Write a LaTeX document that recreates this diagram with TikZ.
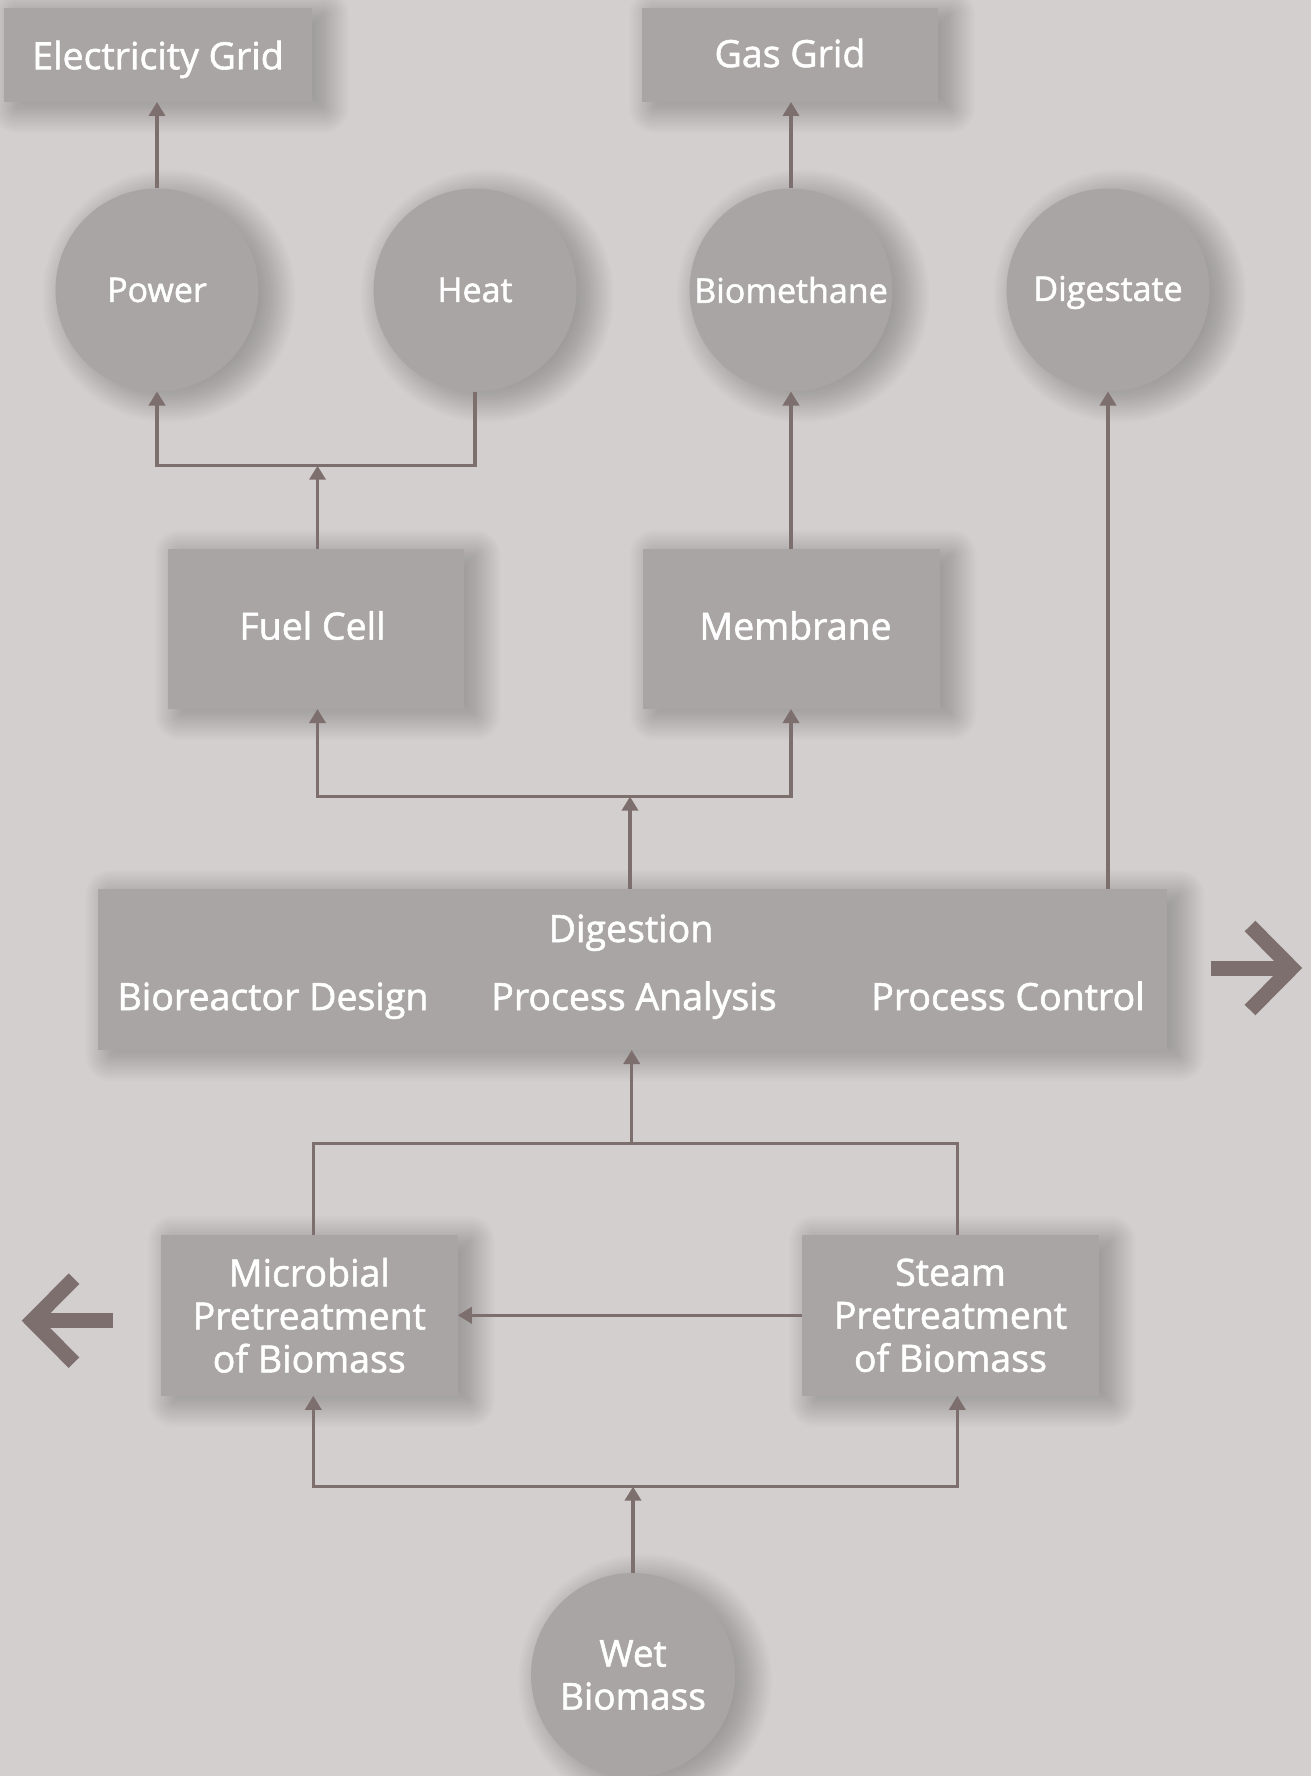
\documentclass[tikz,border=0pt]{standalone}
\usepackage{fontspec}
\setmainfont{Open Sans}[FakeBold=1.5]
\usetikzlibrary{arrows.meta,calc}
\definecolor{bg}{HTML}{D3CFCE}
\definecolor{boxc}{HTML}{A9A5A4}
\definecolor{linec}{HTML}{7D6F6D}
\pgfdeclarelayer{backdrop}
\pgfdeclarelayer{shadowlayer}
\pgfsetlayers{backdrop,shadowlayer,main}
\newcommand{\boxshadow}[1]{%
  \begin{pgfonlayer}{shadowlayer}
  \foreach \k in {0,...,25}{%
    \pgfmathsetmacro\sv{-25+2*\k}%
    \pgfmathsetmacro\rc{max(\sv,0)+0.5}%
    \pgfmathsetmacro\xa{12-\sv}%
    \pgfmathsetmacro\ya{-6-\sv}%
    \pgfmathsetmacro\xb{12+\sv}%
    \pgfmathsetmacro\yb{\sv-6}%
    \fill[black,fill opacity=0.0105,rounded corners=\rc pt]
      ($(#1.south west)+(\xa pt,\ya pt)$) rectangle
      ($(#1.north east)+(\xb pt,\yb pt)$);}
  \end{pgfonlayer}}
\newcommand{\discshadow}[2]{%
  \begin{pgfonlayer}{shadowlayer}
  \foreach \k in {0,...,25}{%
    \pgfmathsetmacro\rr{#2-25+2*\k}%
    \fill[black,fill opacity=0.0105]
      ($(#1.center)+(12pt,-6pt)$) circle[radius=\rr pt];}
  \end{pgfonlayer}}
\begin{document}
\begin{tikzpicture}[x=1pt,y=-1pt,
  box/.style={rectangle,fill=boxc,draw=none,inner sep=0pt,outer sep=0pt,text=white,align=center,font=\fontsize{37.5}{43}\selectfont},
  disc/.style={circle,fill=boxc,draw=none,inner sep=0pt,outer sep=0pt,minimum size=203pt,text=white,align=center,font=\fontsize{34}{43}\selectfont},
  wire/.style={draw=linec,line width=3.5pt},
  conn/.style={wire,-{Triangle[width=16pt,length=14pt]}},
  conn2/.style={wire,{Triangle[width=16pt,length=14pt]}-{Triangle[width=16pt,length=14pt]}},
  bigarrow/.style={draw=linec,line width=15pt,line join=miter},
  lbl/.style={text=white,font=\fontsize{37.5}{43}\selectfont,inner sep=0pt,anchor=base}
]
\begin{pgfonlayer}{backdrop}
\fill[bg] (0,0) rectangle (1311,1776);
\end{pgfonlayer}
\useasboundingbox (0,0) rectangle (1311,1776);

% top row
\node[box,minimum width=308pt,minimum height=94pt] (egrid) at (158,55) {\raisebox{-4.5pt}[\height][\depth]{Electricity Grid}};
\node[box,minimum width=296pt,minimum height=94pt] (ggrid) at (790,55) {\raisebox{2pt}[\height][\depth]{Gas Grid}};

\node[disc] (power) at (157,290) {Power};
\node[disc] (heat) at (475,290) {Heat};
\node[disc] (biometh) at (791,290) {Biomethane};
\node[disc] (digest) at (1108,290) {\raisebox{-2.5pt}[\height][\depth]{Digestate}};

\node[box,minimum width=296pt,minimum height=160pt] (fuel) at (315.5,629) {\raisebox{3.5pt}[\height][\depth]{\hspace*{-6pt}Fuel Cell}};
\node[box,minimum width=297pt,minimum height=160pt] (memb) at (791,629) {\raisebox{3.5pt}[\height][\depth]{\hspace*{9pt}Membrane}};

\node[box,minimum width=1069pt,minimum height=161pt] (dig) at (632.8,969.5) {};
\node[lbl] (dgt) at (631,942) {Digestion};
\node[lbl] (bd) at (273,1010) {Bioreactor Design};
\node[lbl] (pa) at (634,1010) {Process Analysis};
\node[lbl] (pc) at (1008,1010) {Process Control};

\node[box,minimum width=297pt,minimum height=161pt] (micro) at (309.3,1315.3) {Microbial\\Pretreatment\\of Biomass};
\node[box,minimum width=297pt,minimum height=161pt] (steam) at (950.5,1315.3) {Steam\\Pretreatment\\of Biomass};

\node[disc,font=\fontsize{37}{43}\selectfont,minimum size=204pt] (wet) at (633,1675) {Wet\\Biomass};

% shadows
\boxshadow{egrid}\boxshadow{ggrid}\boxshadow{fuel}\boxshadow{memb}
\boxshadow{dig}\boxshadow{micro}\boxshadow{steam}
\discshadow{power}{101.5}\discshadow{heat}{101.5}\discshadow{biometh}{101.5}
\discshadow{digest}{101.5}\discshadow{wet}{102}

% junctions
\coordinate (j1) at (317.5,465.7);
\coordinate (j2) at (630,796.6);
\coordinate (j3) at (631.7,1143.3);
\coordinate (j4) at (633,1486.6);
\coordinate (mx) at (313.3,0);
\coordinate (sx) at (957.3,0);

% connectors
\draw[conn] (power.north) -- (power.north |- egrid.south);
\draw[conn] (biometh.north) -- (biometh.north |- ggrid.south);
\draw[conn] (heat.south) -- (heat.south |- j1) -- (power.south |- j1) -- (power.south);
\draw[conn] (j1 |- fuel.north) -- (j1);
\draw[conn] (biometh.south |- memb.north) -- (biometh.south);
\draw[conn] (digest.south |- dig.north) -- (digest.south);
\draw[conn2] (j1 |- fuel.south) -- (j1 |- j2) -- (biometh.south |- j2) -- (biometh.south |- memb.south);
\draw[conn] (j2 |- dig.north) -- (j2);
\draw[wire] (mx |- micro.north) -- (mx |- j3) -- (sx |- j3) -- (sx |- steam.north);
\draw[conn] (j3) -- (j3 |- dig.south);
\draw[conn] (steam.west) -- (micro.east);
\draw[conn] (wet.north) -- (j4);
\draw[conn2] (mx |- micro.south) -- (mx |- j4) -- (sx |- j4) -- (sx |- steam.south);

% big arrows
\draw[bigarrow] (1211,968) -- (1290,968);
\draw[bigarrow] (1250,926) -- (1291.6,968) -- (1250,1010);
\draw[bigarrow] (112.7,1320.7) -- (36,1320.7);
\draw[bigarrow] (74,1278.7) -- (32.3,1320.7) -- (74,1362.7);
\end{tikzpicture}
\end{document}
